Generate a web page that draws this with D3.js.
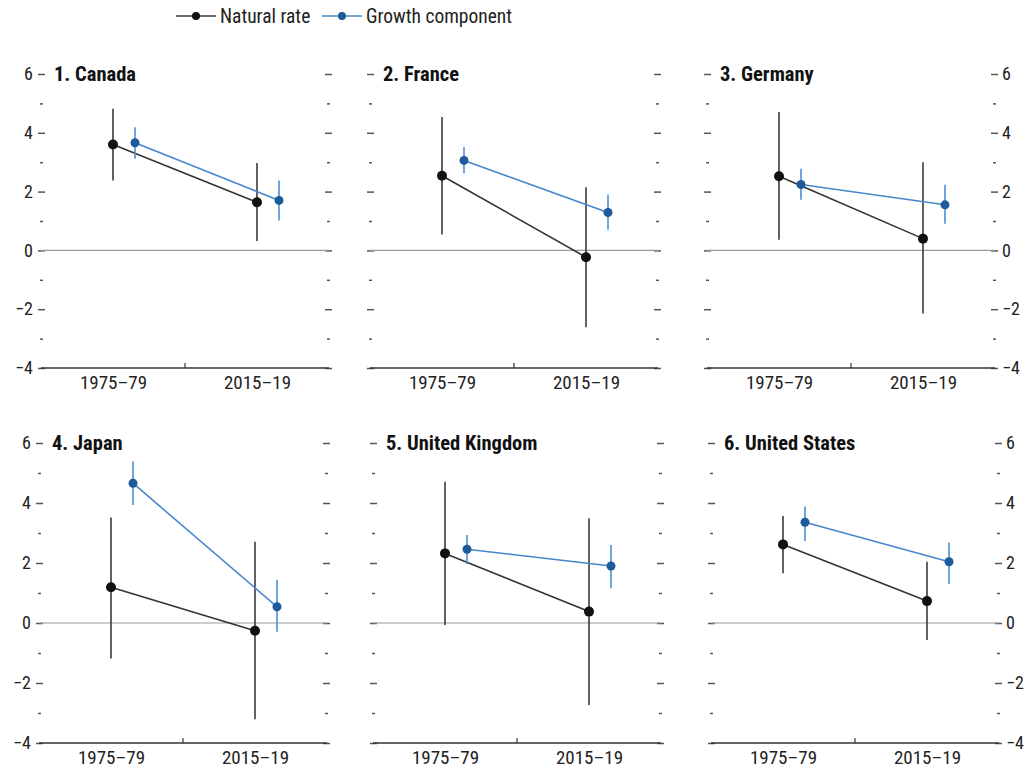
<!DOCTYPE html>
<head>
  <meta charset="utf-8">
  <script src="https://d3js.org/d3.v7.min.js"></script>
  <style>
    body { margin:0; background:#fff; }
    text { font-family: "Liberation Sans Narrow", "Arial Narrow", "Roboto Condensed", sans-serif; fill:#222; }
  </style>
</head>

<body>
  <script>

  var periods = ["1975–79", "2015–19"];
  var countries = ["1. Canada", "2. France", "3. Germany", "4. Japan", "5. United Kingdom", "6. United States"];

  // natural rate: point estimate, lower and upper band, per period
  var naturalRate = [[3.6, 1.64], [2.54, -0.23], [2.52, 0.40], [1.19, -0.26], [2.32, 0.38], [2.62, 0.73]];
  var naturalLow  = [[2.38, 0.32], [0.54, -2.61], [0.36, -2.15], [-1.18, -3.21], [-0.07, -2.73], [1.66, -0.57]];
  var naturalHigh = [[4.82, 2.97], [4.54, 2.15], [4.71, 3.00], [3.52, 2.71], [4.71, 3.49], [3.57, 2.04]];

  // growth component
  var growthComp = [[3.66, 1.70], [3.06, 1.29], [2.24, 1.55], [4.66, 0.54], [2.46, 1.90], [3.36, 2.04]];
  var growthLow  = [[3.12, 1.02], [2.63, 0.70], [1.72, 0.91], [3.93, -0.29], [1.97, 1.16], [2.73, 1.30]];
  var growthHigh = [[4.19, 2.38], [3.51, 1.90], [2.78, 2.23], [5.38, 1.43], [2.93, 2.60], [3.88, 2.68]];

  var majorTicks = [-4, -2, 0, 2, 4, 6];
  var minorTicks = [-3, -1, 1, 3, 5];

  var width = 1025, height = 773;
  var panelW = 288;
  var colLeft = [[41, 370, 707], [39, 373, 711]];
  var rowTop = [74, 443];     // y of 6
  var rowBottom = [368, 743]; // y of -4
  var growthOffset = 22;

  var blackDot = "#111", blackLine = "#333";
  var blueDot = "#1d5c9b", blueLine = "#4688cc";

  var svg = d3.select("body").append("svg")
    .attr("width", width)
    .attr("height", height);

  // legend
  var legend = svg.append("g").attr("transform", "translate(176,16)");
  var legendItems = [
    {label: "Natural rate", line: blackLine, dot: blackDot, x: 0},
    {label: "Growth component", line: blueLine, dot: blueDot, x: 146}
  ];
  legendItems.forEach(function(d) {
    var g = legend.append("g").attr("transform", "translate(" + d.x + ",0)");
    g.append("line").attr("x1", 0).attr("x2", 40).attr("stroke", d.line).attr("stroke-width", 1.5);
    g.append("circle").attr("cx", 20).attr("r", 4).attr("fill", d.dot);
    g.append("text").attr("x", 44).attr("dy", "0.35em")
      .style("font-size", "19.5px").text(d.label);
  });

  countries.forEach(function(name, i) {
    var row = Math.floor(i / 3), col = i % 3;
    var left = colLeft[row][col];

    var y = d3.scaleLinear().domain([-4, 6]).range([rowBottom[row], rowTop[row]]);
    var x = d3.scalePoint().domain(periods).range([left, left + panelW]).padding(0.5);

    var g = svg.append("g");

    // left ticks
    var leftMajor = d3.axisLeft(y).tickValues(majorTicks).tickSize(7).tickPadding(5);
    if (col !== 0) leftMajor.tickFormat("");
    var la = g.append("g").attr("transform", "translate(" + (left + 4) + ",0)").call(leftMajor);
    var leftMinor = d3.axisLeft(y).tickValues(minorTicks).tickSize(3).tickFormat("");
    var lm = g.append("g").attr("transform", "translate(" + (left + 2) + ",0)").call(leftMinor);

    // right ticks
    var rightMajor = d3.axisRight(y).tickValues(majorTicks).tickSize(7).tickPadding(4);
    if (col !== 2) rightMajor.tickFormat("");
    var ra = g.append("g").attr("transform", "translate(" + (left + panelW - 4) + ",0)").call(rightMajor);
    var rightMinor = d3.axisRight(y).tickValues(minorTicks).tickSize(3).tickFormat("");
    var rm = g.append("g").attr("transform", "translate(" + (left + panelW - 2) + ",0)").call(rightMinor);

    [la, lm, ra, rm].forEach(function(a) {
      a.select(".domain").remove();
      a.selectAll("line").attr("stroke", "#555").attr("stroke-width", 1.5);
      a.selectAll("text").style("font-size", "18px").style("fill", "#222");
    });

    // zero line
    g.append("line")
      .attr("x1", left).attr("x2", left + panelW)
      .attr("y1", y(0)).attr("y2", y(0))
      .attr("stroke", "#999").attr("stroke-width", 1.2);

    // bottom axis
    g.append("line")
      .attr("x1", left).attr("x2", left + panelW)
      .attr("y1", y(-4)).attr("y2", y(-4))
      .attr("stroke", "#333").attr("stroke-width", 1.5);
    g.append("line")
      .attr("x1", left + panelW / 2).attr("x2", left + panelW / 2)
      .attr("y1", y(-4)).attr("y2", y(-4) - 5)
      .attr("stroke", "#333").attr("stroke-width", 1.2);
    var xa = g.append("g").attr("transform", "translate(0," + y(-4) + ")")
      .call(d3.axisBottom(x).tickSize(0).tickPadding(8));
    xa.select(".domain").remove();
    xa.selectAll("text").style("font-size", "19px").style("fill", "#222");

    // title
    g.append("text")
      .attr("x", left + 13).attr("y", y(6)).attr("dy", "0.35em")
      .style("font-size", "20.5px").style("font-weight", "bold").style("fill", "#111")
      .text(name);

    var series = [
      {vals: naturalRate[i], lo: naturalLow[i], hi: naturalHigh[i], dx: 0, line: blackLine, bar: "#3a3a3a", dot: blackDot, r: 5},
      {vals: growthComp[i], lo: growthLow[i], hi: growthHigh[i], dx: growthOffset, line: blueLine, bar: "#4b8fd3", dot: blueDot, r: 4.5}
    ];

    series.forEach(function(s) {
      var pts = periods.map(function(p, j) {
        return {x: x(p) + s.dx, v: s.vals[j], lo: s.lo[j], hi: s.hi[j]};
      });
      g.selectAll(null).data(pts).enter().append("line")
        .attr("x1", function(d) { return d.x; })
        .attr("x2", function(d) { return d.x; })
        .attr("y1", function(d) { return y(d.lo); })
        .attr("y2", function(d) { return y(d.hi); })
        .attr("stroke", s.bar).attr("stroke-width", 1.6);
      g.append("path").datum(pts)
        .attr("d", d3.line().x(function(d) { return d.x; }).y(function(d) { return y(d.v); }))
        .attr("fill", "none").attr("stroke", s.line).attr("stroke-width", 1.6);
      g.selectAll(null).data(pts).enter().append("circle")
        .attr("cx", function(d) { return d.x; })
        .attr("cy", function(d) { return y(d.v); })
        .attr("r", s.r)
        .attr("fill", s.dot);
    });
  });

  </script>
</body>
